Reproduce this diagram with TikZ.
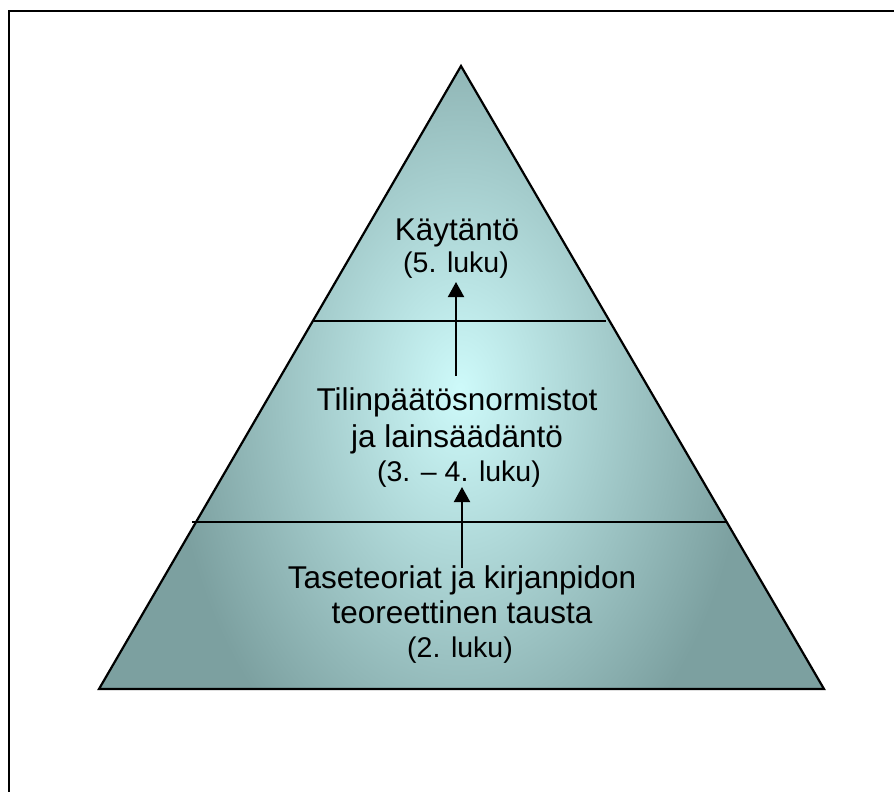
\documentclass[tikz,border=0pt]{standalone}
\usepackage{fontspec}
\setmainfont{Liberation Sans}
\usetikzlibrary{arrows.meta}
\definecolor{tealdark}{RGB}{124,160,160}
\definecolor{teallite}{RGB}{206,250,250}
\tikzset{
  frame/.style={line width=2pt, line cap=rect},
  divider/.style={line width=1.5pt},
  uparrow/.style={line width=2pt, -{Triangle[width=16pt,length=15pt]}},
  big/.style={font=\fontsize{31.5}{35}\selectfont, anchor=base, inner sep=0pt},
  small/.style={font=\fontsize{28.5}{33}\selectfont, anchor=base, inner sep=0pt},
}
\begin{document}
\begin{tikzpicture}[x=1pt,y=-1pt]
  \useasboundingbox (0,0) rectangle (894,792);
  % outer frame (open to the right and bottom)
  \draw[frame] (9,792) -- (9,11) -- (894,11);

  % pyramid corners
  \coordinate (apex) at (461,66);
  \coordinate (bl) at (99,689);
  \coordinate (br) at (824,689);

  % shaded body
  \begin{scope}
    \clip (apex) -- (bl) -- (br) -- cycle;
    \fill[tealdark] (apex) -- (bl) -- (br) -- cycle;
    \shade[inner color=teallite, outer color=tealdark] (460,390) ellipse (290 and 430);
  \end{scope}
  \draw[line width=2.2pt, line join=miter] (apex) -- (bl) -- (br) -- cycle;

  % level dividers
  \coordinate (d1l) at (312,321);
  \coordinate (d1r) at (606,321);
  \coordinate (d2l) at (192,522);
  \coordinate (d2r) at (726,522);
  \draw[divider] (d1l) -- (d1r);
  \draw[divider] (d2l) -- (d2r);

  % top level
  \node[big]   (kay)  at (457,240) {Käytäntö};
  \node[small] (kayl) at (456,272) {(5. luku)};

  % middle level
  \node[big]   (til)  at (457,410) {Tilinpäätösnormistot};
  \node[big]   (lain) at (457,447) {ja lainsäädäntö};
  \node[small] (tilL) at (459,481) {(3. – 4. luku)};

  % bottom level
  \node[big]   (tas)  at (462,588) {Taseteoriat ja kirjanpidon};
  \node[big]   (teo)  at (462,623) {teoreettinen tausta};
  \node[small] (tasL) at (460,657) {(2. luku)};

  % arrows between levels
  \coordinate (a1s) at (456,376);
  \coordinate (a1e) at (456,282);
  \coordinate (a2s) at (462,568);
  \coordinate (a2e) at (462,487);
  \draw[uparrow] (a1s) -- (a1e);
  \draw[uparrow] (a2s) -- (a2e);
\end{tikzpicture}
\end{document}
